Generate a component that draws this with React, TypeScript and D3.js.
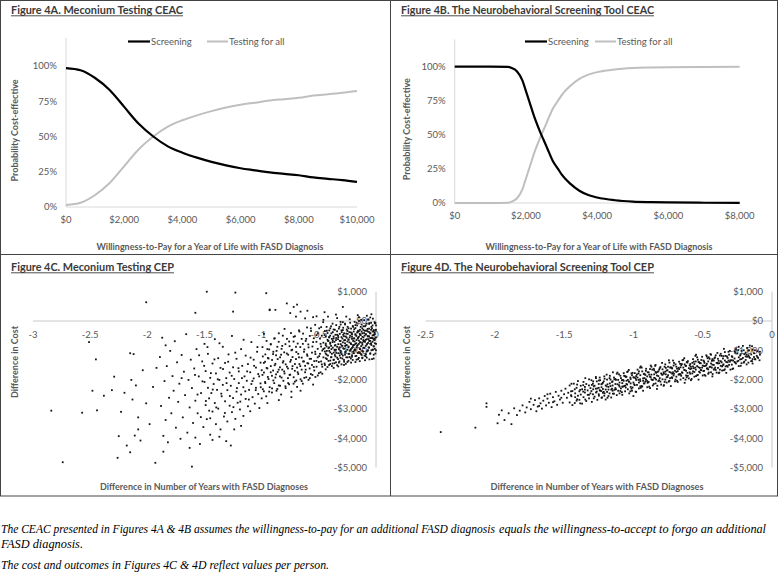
import React from 'react'
import * as d3 from 'd3'

const wtpA = [0, 500, 1000, 1500, 2000, 2500, 3000, 3500, 4000, 4500, 5000, 5500, 6000, 6500, 7000, 7500, 8000, 8500, 9000, 9500, 10000]
const screeningA = [0.985, 0.97, 0.915, 0.83, 0.71, 0.59, 0.5, 0.43, 0.385, 0.35, 0.32, 0.295, 0.275, 0.26, 0.245, 0.235, 0.225, 0.21, 0.2, 0.19, 0.178]
const testingA = [0.015, 0.03, 0.085, 0.17, 0.29, 0.41, 0.5, 0.57, 0.615, 0.65, 0.68, 0.705, 0.725, 0.74, 0.755, 0.765, 0.775, 0.79, 0.8, 0.81, 0.822]

const wtpB = [0, 500, 1000, 1500, 1600, 1750, 1900, 2000, 2100, 2250, 2400, 2500, 2600, 2750, 2900, 3000, 3250, 3500, 3750, 4000, 4500, 5000, 5500, 6000, 7000, 8000]
const screeningB = [1, 1, 1, 0.998, 0.99, 0.965, 0.9, 0.82, 0.74, 0.62, 0.52, 0.46, 0.4, 0.31, 0.25, 0.21, 0.14, 0.09, 0.058, 0.04, 0.02, 0.01, 0.006, 0.004, 0.002, 0.001]
const testingB = [0, 0, 0, 0.002, 0.01, 0.035, 0.1, 0.18, 0.26, 0.38, 0.48, 0.54, 0.6, 0.69, 0.75, 0.79, 0.86, 0.91, 0.942, 0.96, 0.98, 0.99, 0.994, 0.996, 0.998, 0.999]

const pctTicks = [0, 0.25, 0.5, 0.75, 1]
const wtpTicksA = [0, 2000, 4000, 6000, 8000, 10000]
const wtpTicksB = [0, 2000, 4000, 6000, 8000]
const costTicks = [1000, 0, -1000, -2000, -3000, -4000, -5000]
const yearTicksC = [-3, -2.5, -2, -1.5, -1, -0.5, 0]
const yearTicksD = [-2.5, -2, -1.5, -1, -0.5, 0]

// CEP scatter, [difference in years, difference in cost]
const cepC: [number, number][] = [
  [-2.84,-3060],[-2.57,-3130],[-2.51,-720],[-2.45,-1310],[-2.44,-3050],[-2.48,-2380],[-2.38,-2550],[-2.31,-2360],[-2.29,-1900],[-2.23,-3100],
  [-2.25,-3930],[-2.26,-4670],[-2.74,-4820],[-2.18,-4250],[-2.15,-4480],[-2.15,-1100],[-2.12,-1130],[-2.14,-2010],[-2.11,-3910],[-2.08,-3290],
  [-2.08,-3700],[-2.06,-4080],[-2.01,-2810],[-2.01,640],[-2.1,-2200],[-2.13,-2680],[-2.2,-2450],[-1.93,-4840],[-1.92,-1600],[-1.98,-3520],[-1.95,-2250],[-2.04,-1680],
  [-1.89,-1230],[-1.88,-2900],[-1.87,-570],[-1.86,-4460],[-1.86,-3920],[-1.85,-2050],[-1.84,-830],[-1.84,-3380],[-1.83,-1540],[-1.82,-4140],
  [-1.81,-2620],[-1.8,-1020],[-1.79,-3150],[-1.78,-1880],[-1.77,-2380],[-1.76,-690],[-1.75,-3640],[-1.74,-1410],[-1.73,-2760],[-1.72,-2140],
  [-1.71,-4020],[-1.7,-1160],[-1.69,-3290],[-1.68,-1730],[-1.67,-2530],[-1.66,-450],[-1.65,-3810],[-1.64,-2010],[-1.63,-2950],[-1.62,-1320],
  [-1.61,-4970],[-1.61,-2290],[-1.6,-3480],[-1.59,-1620],[-1.58,280],[-1.58,-2720],[-1.57,-960],[-1.56,-3150],[-1.55,-1890],[-1.54,-4200],
  [-1.53,-2460],[-1.52,-1380],[-1.51,-3620],[-1.5,-2080],[-1.5,-780],[-1.49,-2870],[-1.48,1000],[-1.58,-3980],[-1.63,-4330],[-1.7,-1950],
  [-1.49,-1710],[-1.48,-3350],[-1.47,-2280],[-1.47,-1120],[-1.46,-2640],[-1.45,-3880],[-1.45,-1940],[-1.44,-2460],[-1.43,-1450],[-1.43,-3090],
  [-1.42,-2150],[-1.41,-620],[-1.41,-2800],[-1.4,-1790],[-1.4,-3520],[-1.39,-2350],[-1.38,-1270],[-1.38,-2990],[-1.37,-2010],[-1.36,-3700],
  [-1.36,-1600],[-1.35,-2570],[-1.34,-880],[-1.34,-2180],[-1.33,-3260],[-1.32,-1430],[-1.32,-2740],[-1.31,-1950],[-1.3,-3430],[-1.3,-2360],
  [-1.29,-1140],[-1.28,-2890],[-1.28,-1760],[-1.27,-2210],[-1.26,-3110],[-1.26,-510],[-1.25,-1580],[-1.25,-2630],[-1.24,-1980],[-1.23,970],
  [-1.23,-3340],[-1.22,-2410],[-1.22,-1290],[-1.21,-2790],[-1.2,-1720],[-1.2,-2120],[-1.19,-3020],[-1.18,-960],[-1.18,-2510],[-1.17,-1530],
  [-1.16,-2260],[-1.16,-3240],[-1.15,-1890],[-1.14,-2660],[-1.14,-1180],[-1.13,-2040],[-1.12,-2910],[-1.12,-1470],[-1.11,-2350],[-1.1,-1750],
  [-1.1,-3080],[-1.09,-720],[-1.09,-2150],[-1.08,-2600],[-1.07,-1320],[-1.07,-1960],[-1.06,-2820],[-1.05,-1590],[-1.05,-2280],[-1.04,-1050],
  [-1.03,-2490],[-1.03,-1810],[-1.02,-2970],[-1.01,-1420],[-1.01,-2130],[-1.0,-1680],[-1.0,-2640],[-1.25,320],[-1.24,-3700],[-1.37,-3950],
  [-1.31,-4100],[-1.18,-3580],[-1.27,-4250],[-1.43,-4060],
  [-1.583,-1840],[-1.561,-2510],[-1.547,-1170],[-1.532,-3280],[-1.518,-2060],[-1.503,-1530],[-1.488,-2730],[-1.474,-890],[-1.459,-3060],[-1.444,-1780],
  [-1.428,-2340],[-1.413,-1310],[-1.397,-2950],[-1.384,-1990],[-1.369,-760],[-1.353,-2480],[-1.338,-1640],[-1.322,-3140],[-1.307,-2120],[-1.293,-1390],
  [-1.278,-2560],[-1.262,-1870],[-1.247,-2940],[-1.231,-1080],[-1.216,-2290],[-1.203,-1610],[-1.187,-2750],[-1.172,-1950],[-1.158,-640],[-1.143,-2400],
  [-1.127,-1720],[-1.112,-2680],[-1.097,-1250],[-1.081,-2050],[-1.066,-1530],[-1.052,-2360],[-1.037,-890],[-1.022,-1890],[-1.008,-2260],[-1.45,-3320],
  [-0.99,-1210],[-0.99,-2330],[-0.98,-1760],[-0.98,-440],[-0.97,-2080],[-0.97,-1390],[-0.96,950],[-0.96,-2570],[-0.95,-1620],[-0.95,-960],
  [-0.94,-1980],[-0.94,-1280],[-0.93,370],[-0.93,-2260],[-0.92,-1540],[-0.92,-790],[-0.91,-1870],[-0.91,-2440],[-0.9,-1130],[-0.9,-1690],
  [-0.89,-2120],[-0.89,-600],[-0.88,-1460],[-0.88,-1930],[-0.87,-2380],[-0.87,-1020],[-0.86,-1740],[-0.86,-1300],[-0.85,-2200],[-0.85,-420],
  [-0.84,-1580],[-0.84,-1890],[-0.83,-1150],[-0.83,-2510],[-0.82,-1660],[-0.82,-850],[-0.81,-2040],[-0.81,-1370],[-0.8,-1790],[-0.8,-270],
  [-0.79,-1480],[-0.79,-2290],[-0.78,600],[-0.78,-1110],[-0.77,-1950],[-0.77,-1620],[-0.76,-700],[-0.76,-2160],[-0.75,-1390],[-0.75,-1830],
  [-0.74,-1000],[-0.74,-2410],[-0.73,-1540],[-0.73,-1230],[-0.72,-1920],[-0.72,-540],[-0.71,-1700],[-0.71,-2070],[-0.7,-1300],[-0.7,-880],
  [-0.69,-1590],[-0.69,-2250],[-0.68,-1120],[-0.68,-1810],[-0.67,-360],[-0.67,-1470],[-0.66,320],[-0.66,-1990],[-0.65,-1250],[-0.65,-1660],
  [-0.64,-780],[-0.64,-2140],[-0.63,-1380],[-0.63,-1050],[-0.62,-1750],[-0.62,-1530],[-0.61,-610],[-0.61,-1920],[-0.6,-1190],[-0.6,-1440],
  [-0.59,-2010],[-0.59,-900],[-0.58,-1620],[-0.58,-1290],[-0.57,-250],[-0.57,-1810],[-0.56,-1080],[-0.56,-1500],[-0.55,-2170],[-0.55,-720],
  [-0.54,-1370],[-0.54,-1690],[-0.53,-1130],[-0.53,-1910],[-0.52,-480],[-0.52,-1560],[-0.51,-1240],[-0.51,-950],[-0.5,-1780],[-0.5,-1400],
  [-0.88,380],[-0.7,150],[-0.62,90],[-0.55,130],[-0.74,-2600],[-0.66,-2380],[-0.95,-2800],[-0.85,-2700],
  [-0.93,390],[-0.75,270],[-0.72,480],[-0.69,560],[-0.52,160],[-0.29,480],[-0.45,300],[-0.6,350],
  [-0.993,-890],[-0.993,-1840],[-0.981,-2400],[-0.981,-1430],[-0.968,-1140],[-0.968,-2120],[-0.957,-1600],[-0.957,-680],[-0.946,-1910],[-0.946,-1260],
  [-0.934,-2410],[-0.934,-970],[-0.921,-800],[-0.921,-1750],[-0.909,-2300],[-0.909,-1330],[-0.898,-1050],[-0.898,-2030],[-0.886,-1510],[-0.886,-590],
  [-0.874,-1820],[-0.874,-1170],[-0.863,-2320],[-0.863,-880],[-0.851,-710],[-0.851,-1660],[-0.839,-2210],[-0.839,-1240],[-0.826,-950],[-0.826,-1930],
  [-0.815,-1420],[-0.815,-500],[-0.803,-1720],[-0.803,-1070],[-0.792,-2230],[-0.792,-790],[-0.779,-610],[-0.779,-1560],[-0.768,-2120],[-0.768,-1150],
  [-0.756,-860],[-0.756,-1840],[-0.744,-1330],[-0.744,-410],[-0.733,-1630],[-0.733,-980],[-0.721,-2140],[-0.721,-700],[-0.709,-520],[-0.709,-1470],
  [-0.697,-2030],[-0.697,-1060],[-0.685,-770],[-0.685,-1750],[-0.674,-1240],[-0.674,-320],[-0.662,-1540],[-0.662,-890],[-0.65,-2050],[-0.65,-610],
  [-0.638,-430],[-0.638,-1380],[-0.627,-1940],[-0.627,-970],[-0.615,-680],[-0.615,-1660],[-0.603,-1140],[-0.603,-220],[-0.592,-1450],[-0.592,-800],
  [-0.579,-1950],[-0.579,-510],[-0.568,-340],[-0.568,-1290],[-0.556,-1840],[-0.556,-870],[-0.544,-590],[-0.544,-1570],[-0.532,-1050],[-0.532,-130],
  [-0.521,-1360],[-0.521,-710],[-0.509,-1860],[-0.509,-420],[-0.497,-250],[-0.497,-1200],[-0.485,-1750],[-0.485,-780],[-0.474,-500],[-0.474,-1480],
  [-0.462,-960],[-0.462,-40],
  [-0.49,-1120],[-0.49,-600],[-0.48,-1380],[-0.48,-870],[-0.48,-210],[-0.47,-1010],[-0.47,-1560],[-0.46,-740],[-0.46,-1240],[-0.46,40],
  [-0.45,-930],[-0.45,-1450],[-0.45,-480],[-0.44,-1110],[-0.44,-820],[-0.44,-1650],[-0.43,-330],[-0.43,-1020],[-0.43,-1300],[-0.42,-680],
  [-0.42,-1180],[-0.42,150],[-0.41,-900],[-0.41,-1500],[-0.41,-550],[-0.4,-1070],[-0.4,-780],[-0.4,-1350],[-0.4,-250],[-0.47,-1800],
  [-0.39,-960],[-0.39,-420],[-0.39,-1230],[-0.38,-720],[-0.38,-1450],[-0.38,-90],[-0.37,-1080],[-0.37,-590],[-0.37,-1320],[-0.36,-840],
  [-0.36,-300],[-0.36,-1160],[-0.35,-650],[-0.35,-1410],[-0.35,-980],[-0.34,-470],[-0.34,-1250],[-0.34,100],[-0.33,-790],[-0.33,-1100],
  [-0.33,-550],[-0.32,-1380],[-0.32,-900],[-0.32,-200],[-0.31,-1020],[-0.31,-680],[-0.31,-1260],[-0.3,-380],[-0.3,-840],[-0.3,-1130],
  [-0.35,220],[-0.37,-1600],[-0.33,-1550],[-0.31,-30],[-0.36,-1000],
  [-0.29,-730],[-0.29,-1180],[-0.29,-310],[-0.28,-950],[-0.28,-520],[-0.28,-1330],[-0.27,-650],[-0.27,-1060],[-0.27,-120],[-0.26,-830],
  [-0.26,-1240],[-0.26,-430],[-0.25,-980],[-0.25,-700],[-0.25,-1400],[-0.24,-250],[-0.24,-870],[-0.24,-1120],[-0.23,-560],[-0.23,-1010],
  [-0.23,60],[-0.22,-760],[-0.22,-1280],[-0.22,-390],[-0.21,-920],[-0.21,-610],[-0.21,-1170],[-0.2,-200],[-0.2,-820],[-0.2,-1050],
  [-0.28,-1500],[-0.26,150],[-0.24,-640],[-0.22,-960],[-0.27,-850],[-0.25,-340],[-0.23,-1230],[-0.21,-460],[-0.2,-680],[-0.29,-40],
  [-0.19,-590],[-0.19,-1010],[-0.19,-280],[-0.18,-780],[-0.18,-1200],[-0.18,-450],[-0.17,-900],[-0.17,-60],[-0.17,-650],[-0.16,-1090],
  [-0.16,-380],[-0.16,-820],[-0.15,-540],[-0.15,-1260],[-0.15,130],[-0.14,-720],[-0.14,-960],[-0.14,-300],[-0.13,-610],[-0.13,-1130],
  [-0.13,-860],[-0.12,-420],[-0.12,-750],[-0.12,-1020],[-0.11,-180],[-0.11,-560],[-0.11,-910],[-0.1,-680],[-0.1,-1180],[-0.1,-330],
  [-0.19,-820],[-0.18,-140],[-0.17,-1320],[-0.16,-600],[-0.15,-780],[-0.14,-470],[-0.13,40],[-0.12,-1250],[-0.11,-700],[-0.1,-500],
  [-0.16,200],[-0.14,-1100],[-0.12,-250],[-0.18,-980],[-0.15,-350],
  [-0.09,-460],[-0.09,-850],[-0.09,-150],[-0.08,-620],[-0.08,-1040],[-0.08,-330],[-0.07,-750],[-0.07,50],[-0.07,-530],[-0.06,-910],
  [-0.06,-260],[-0.06,-680],[-0.05,-420],[-0.05,-1120],[-0.05,120],[-0.04,-580],[-0.04,-820],[-0.04,-200],[-0.03,-490],[-0.03,-980],
  [-0.03,-710],[-0.02,-310],[-0.02,-640],[-0.02,-870],[-0.01,-80],[-0.01,-450],[-0.01,-760],[0,-560],[0,-300],[0,-1000],
  [-0.09,-1200],[-0.08,180],[-0.07,-1000],[-0.06,-100],[-0.05,-780],[-0.04,230],[-0.03,-150],[-0.02,-1150],[-0.01,-600],[0,-150],
  [-0.09,-640],[-0.07,-360],[-0.05,-580],[-0.03,-360],[-0.01,-950],[-0.08,-800],[-0.06,-520],[-0.04,-1000],[-0.02,-480],[0,-780],
  [-0.447,-340],[-0.447,-1040],[-0.447,-1500],[-0.439,-770],[-0.439,-530],[-0.439,-1270],[-0.432,-870],[-0.432,-200],[-0.432,-1150],[-0.424,-640],
  [-0.424,-1570],[-0.424,-410],[-0.416,-930],[-0.416,-680],[-0.416,-1360],[-0.409,-560],[-0.409,-320],[-0.409,-1020],[-0.401,-1470],[-0.401,-740],
  [-0.401,-500],[-0.393,-1240],[-0.393,-850],[-0.393,-180],[-0.386,-1120],[-0.386,-610],[-0.386,-1540],[-0.378,-380],[-0.378,-910],[-0.378,-660],
  [-0.371,-1330],[-0.371,-530],[-0.371,-290],[-0.363,-980],[-0.363,-1440],[-0.363,-710],[-0.355,-470],[-0.355,-1210],[-0.355,-820],[-0.348,-140],
  [-0.348,-1090],[-0.348,-580],[-0.34,-1510],[-0.34,-350],[-0.34,-880],[-0.332,-620],[-0.332,-1300],[-0.332,-500],[-0.325,-260],[-0.325,-960],
  [-0.325,-1420],[-0.317,-680],[-0.317,-440],[-0.317,-1180],[-0.309,-790],[-0.309,-120],[-0.309,-1070],[-0.302,-550],[-0.302,-1480],[-0.302,-320],
  [-0.294,-850],[-0.294,-600],[-0.294,-1280],[-0.287,-470],[-0.287,-230],[-0.287,-930],[-0.279,-1390],[-0.279,-660],[-0.279,-420],[-0.271,-1150],
  [-0.271,-760],[-0.271,-90],[-0.264,-1040],[-0.264,-530],[-0.264,-1460],[-0.256,-290],[-0.256,-820],[-0.256,-570],[-0.248,-1240],[-0.248,-440],
  [-0.248,-200],[-0.241,-900],[-0.241,-1360],[-0.241,-630],[-0.233,-380],[-0.233,-1120],[-0.233,-730],[-0.226,-60],[-0.226,-1010],[-0.226,-500],
  [-0.218,-1420],[-0.218,-260],[-0.218,-790],[-0.21,-540],[-0.21,-1220],[-0.21,-420],[-0.203,-170],[-0.203,-870],[-0.203,-1330],[-0.195,-600],
  [-0.195,-360],[-0.195,-1100],[-0.187,-700],[-0.187,-30],[-0.187,-980],[-0.18,-470],[-0.18,-1400],[-0.18,-240],[-0.172,-760],[-0.172,-510],
  [-0.172,-1190],[-0.165,-390],[-0.165,-150],[-0.165,-850],[-0.157,-1300],[-0.157,-570],[-0.157,-330],[-0.149,-1060],[-0.149,-670],[-0.149,0],
  [-0.142,-950],[-0.142,-440],[-0.142,-1370],[-0.134,-200],[-0.134,-730],[-0.134,-480],[-0.126,-1160],[-0.126,-360],[-0.126,-120],[-0.119,-810],
  [-0.119,-1270],[-0.119,-540],[-0.111,-300],[-0.111,-1040],[-0.111,-650],[-0.104,30],[-0.104,-920],[-0.104,-410],[-0.096,-1340],[-0.096,-180],
  [-0.096,-710],[-0.088,-450],[-0.088,-1130],[-0.088,-330],[-0.081,-90],[-0.081,-790],[-0.081,-1250],[-0.073,-510],[-0.073,-270],[-0.073,-1010],
  [-0.065,-620],[-0.065,50],[-0.065,-900],[-0.058,-380],[-0.058,-1310],[-0.058,-70],[-0.05,-680],[-0.05,-420],[-0.05,-1100],[-0.043,-300],
  [-0.043,-60],[-0.043,-760],[-0.035,-1300],[-0.035,-570],[-0.035,-250],[-0.027,-980],[-0.027,-590],[-0.027,80],[-0.02,-860],[-0.02,-350],
  [-0.02,-1280],[-0.012,-40],[-0.012,-650],[-0.012,-400],[-0.005,-1110],[-0.005,-310],[-0.005,-70],
]

const cepD: [number, number][] = [
  [-2.39,-3790],[-2.14,-3640],[-2.06,-2810],[-2.06,-2930],[-1.98,-3490],[-1.93,-3380],[-1.88,-3520],[-1.95,-3050],[-1.9,-3150],[-1.86,-2980],
  [-1.84,-3210],[-1.82,-3060],[-1.8,-2880],[-1.78,-3120],[-1.77,-2950],[-1.75,-2760],[-1.74,-3010],[-1.72,-2860],[-1.71,-2700],[-1.7,-3080],
  [-1.69,-2920],[-1.68,-2640],[-1.67,-2810],[-1.66,-2990],[-1.65,-2720],[-1.64,-2560],[-1.63,-2880],[-1.62,-2650],[-1.61,-2790],[-1.6,-2480],
  [-1.59,-2940],[-1.58,-2600],[-1.57,-2740],[-1.56,-2420],[-1.55,-2860],[-1.54,-2550],[-1.53,-2680],[-1.52,-2380],[-1.51,-2790],[-1.5,-2500],
  [-1.49,-2310],[-1.48,-2620],[-1.47,-2450],[-1.46,-2780],[-1.46,-2200],[-1.45,-2530],[-1.44,-2390],[-1.44,-2870],[-1.43,-2140],[-1.42,-2600],
  [-1.42,-2470],[-1.41,-2720],[-1.41,-2280],[-1.4,-2550],[-1.4,-2050],
  [-1.39,-2400],[-1.39,-2690],[-1.38,-2210],[-1.38,-2510],[-1.37,-2820],[-1.37,-2330],[-1.36,-2080],[-1.36,-2600],[-1.35,-2440],[-1.35,-2250],
  [-1.34,-2730],[-1.34,-2150],[-1.33,-2520],[-1.33,-2370],[-1.32,-2640],[-1.32,-1990],[-1.31,-2290],[-1.31,-2470],[-1.3,-2760],[-1.3,-2180],
  [-1.29,-2330],[-1.29,-2060],[-1.28,-2580],[-1.28,-2210],[-1.27,-2440],[-1.27,-1950],[-1.26,-2690],[-1.26,-2300],[-1.25,-2150],[-1.25,-2500],
  [-1.24,-2380],[-1.24,-2020],[-1.23,-2620],[-1.23,-2260],[-1.22,-2450],[-1.22,-2110],[-1.21,-2550],[-1.21,-1890],[-1.2,-2340],[-1.2,-2200],[-1.2,-2680],
  [-1.19,-2000],[-1.19,-2420],[-1.18,-2250],[-1.18,-2560],[-1.17,-1870],[-1.17,-2130],[-1.16,-2340],[-1.16,-2610],[-1.15,-2060],[-1.15,-2200],
  [-1.14,-2480],[-1.14,-1930],[-1.13,-2290],[-1.13,-2150],[-1.12,-2530],[-1.12,-1800],[-1.11,-2380],[-1.11,-2010],[-1.1,-2240],[-1.1,-2470],[-1.1,-2100],
  [-1.09,-1950],[-1.09,-2300],[-1.08,-2120],[-1.08,-2520],[-1.07,-1780],[-1.07,-2040],[-1.06,-2210],[-1.06,-2400],[-1.05,-1900],[-1.05,-2150],
  [-1.04,-2330],[-1.04,-1720],[-1.03,-2070],[-1.03,-2470],[-1.02,-1980],[-1.02,-2250],[-1.01,-1850],[-1.01,-2380],[-1.0,-2100],[-1.0,-1920],
  [-1.0,-2560],[-1.04,-2010],[-1.06,-1880],
  [-0.99,-1780],[-0.99,-2190],[-0.98,-2010],[-0.98,-2420],[-0.97,-1660],[-0.97,-1930],[-0.96,-2100],[-0.96,-2300],[-0.95,-1850],[-0.95,-2050],
  [-0.94,-1590],[-0.94,-2220],[-0.93,-1960],[-0.93,-2380],[-0.92,-1800],[-0.92,-2130],[-0.91,-1700],[-0.91,-2000],[-0.9,-2260],[-0.9,-1890],
  [-0.96,-1720],[-0.93,-2040],
  [-0.89,-1750],[-0.89,-2080],[-0.88,-1900],[-0.88,-2290],[-0.87,-1560],[-0.87,-1830],[-0.86,-2010],[-0.86,-2200],[-0.85,-1680],[-0.85,-1940],
  [-0.84,-2130],[-0.84,-1500],[-0.83,-1860],[-0.83,-2320],[-0.82,-1720],[-0.82,-2050],[-0.81,-1610],[-0.81,-1950],[-0.8,-2170],[-0.8,-1790],
  [-0.85,-1820],[-0.88,-1640],
  [-0.79,-1650],[-0.79,-1990],[-0.78,-1800],[-0.78,-2190],[-0.77,-1480],[-0.77,-1730],[-0.76,-1920],[-0.76,-2100],[-0.75,-1560],[-0.75,-1850],
  [-0.74,-2040],[-0.74,-1420],[-0.73,-1760],[-0.73,-2220],[-0.72,-1620],[-0.72,-1950],[-0.71,-1520],[-0.71,-1860],[-0.7,-2060],[-0.7,-1700],
  [-0.76,-1690],[-0.73,-1580],
  [-0.69,-1560],[-0.69,-1900],[-0.68,-1710],[-0.68,-2080],[-0.67,-1390],[-0.67,-1640],[-0.66,-1830],[-0.66,-2000],[-0.65,-1470],[-0.65,-1750],
  [-0.64,-1950],[-0.64,-1330],[-0.63,-1670],[-0.63,-2110],[-0.62,-1530],[-0.62,-1860],[-0.61,-1420],[-0.61,-1770],[-0.6,-1960],[-0.6,-1610],
  [-0.66,-1580],[-0.63,-1480],
  [-0.59,-1470],[-0.59,-1800],[-0.58,-1620],[-0.58,-1980],[-0.57,-1300],[-0.57,-1550],[-0.56,-1740],[-0.56,-1900],[-0.55,-1380],[-0.55,-1660],
  [-0.54,-1850],[-0.54,-1240],[-0.53,-1580],[-0.53,-2000],[-0.52,-1440],[-0.52,-1760],[-0.51,-1330],[-0.51,-1680],[-0.5,-1860],[-0.5,-1520],
  [-0.56,-1470],[-0.53,-1400],
  [-0.49,-1380],[-0.49,-1700],[-0.48,-1530],[-0.48,-1870],[-0.47,-1210],[-0.47,-1460],[-0.46,-1650],[-0.46,-1800],[-0.45,-1290],[-0.45,-1570],
  [-0.44,-1750],[-0.44,-1150],[-0.43,-1490],[-0.43,-1890],[-0.42,-1350],[-0.42,-1660],[-0.41,-1240],[-0.41,-1590],[-0.4,-1760],[-0.4,-1430],
  [-0.46,-1380],[-0.43,-1300],
  [-0.39,-1290],[-0.39,-1600],[-0.38,-1440],[-0.38,-1760],[-0.37,-1120],[-0.37,-1370],[-0.36,-1550],[-0.36,-1690],[-0.35,-1200],[-0.35,-1480],
  [-0.34,-1650],[-0.34,-1060],[-0.33,-1400],[-0.33,-1770],[-0.32,-1260],[-0.32,-1560],[-0.31,-1150],[-0.31,-1500],[-0.3,-1660],[-0.3,-1340],
  [-0.29,-1200],[-0.29,-1490],[-0.28,-1350],[-0.28,-1620],[-0.27,-1030],[-0.27,-1280],[-0.26,-1450],[-0.26,-960],[-0.25,-1110],[-0.25,-1380],
  [-0.24,-1540],[-0.24,-880],[-0.23,-1310],[-0.23,-1180],[-0.22,-1440],[-0.22,-1020],[-0.21,-1260],[-0.21,-850],[-0.2,-1390],[-0.2,-1130],
  [-0.19,-1080],[-0.19,-1330],[-0.18,-920],[-0.18,-1220],[-0.17,-1420],[-0.17,-1010],[-0.16,-1260],[-0.15,-1140],[-0.15,-1370],[-0.14,-980],
  [-0.13,-1230],[-0.13,-1100],[-0.12,-1310],[-0.11,-1190],[-0.1,-1260],[-0.09,-1340],[-0.16,-840],[-0.14,-1450],
  [-1.18,-2340],[-1.15,-2380],[-1.13,-1980],[-1.08,-2240],[-1.05,-2040],[-1.02,-2130],[-0.98,-1880],[-0.95,-2230],[-0.92,-1950],[-0.9,-2050],
  [-0.87,-1990],[-0.84,-1740],[-0.82,-1880],[-0.79,-1830],[-0.77,-2000],[-0.74,-1740],[-0.72,-1800],[-0.69,-1740],[-0.67,-1820],[-0.64,-1590],
  [-0.62,-1700],[-0.59,-1640],[-0.57,-1720],[-0.54,-1540],[-0.52,-1600],[-0.49,-1540],[-0.47,-1620],[-0.44,-1450],[-0.42,-1500],[-0.39,-1450],
  [-0.37,-1530],[-0.34,-1350],[-0.32,-1410],[-0.29,-1340],[-0.27,-1400],[-0.24,-1240],[-0.22,-1300],[-0.19,-1210],[-0.17,-1170],[-0.14,-1300],
  [-1.25,-2280],[-1.22,-2320],[-1.35,-2340],[-1.45,-2400],[-1.52,-2620],[-1.58,-2770],[-1.62,-2500],[-1.68,-2900],[-1.74,-2650],[-1.97,-3200],
  [-1.447,-2140],[-1.447,-2570],[-1.423,-2800],[-1.423,-2330],[-1.406,-2170],[-1.406,-2670],[-1.384,-2350],[-1.384,-2810],[-1.362,-2190],[-1.362,-2410],
  [-1.347,-1950],[-1.347,-2680],[-1.321,-2200],[-1.321,-2520],[-1.303,-2020],[-1.303,-2390],[-1.286,-2640],[-1.286,-2230],[-1.264,-2060],[-1.264,-2410],
  [-1.243,-1930],[-1.243,-2360],[-1.226,-2610],[-1.226,-2140],[-1.208,-1970],[-1.208,-2470],[-1.187,-2160],[-1.187,-2620],[-1.165,-2000],[-1.165,-2220],
  [-1.148,-1750],[-1.148,-2480],[-1.126,-2010],[-1.126,-2330],[-1.104,-1820],[-1.104,-2190],[-1.083,-2430],[-1.083,-2020],[-1.067,-1870],[-1.067,-2220],
  [-1.045,-1740],[-1.045,-2170],[-1.022,-2400],[-1.022,-1930],[-1.006,-1770],[-1.006,-2270],[-0.984,-1950],[-0.984,-2410],[-0.963,-1790],[-0.963,-2010],
  [-0.947,-1550],[-0.947,-2280],[-0.925,-1810],[-0.925,-2130],[-0.908,-1630],[-0.908,-2000],[-0.886,-2240],[-0.886,-1830],[-0.864,-1660],[-0.864,-2010],
  [-0.843,-1530],[-0.843,-1960],[-0.827,-2210],[-0.827,-1740],[-0.805,-1570],[-0.805,-2070],[-0.782,-1750],[-0.782,-2210],[-0.766,-1600],[-0.766,-1820],
  [-0.744,-1340],[-0.744,-2070],[-0.723,-1600],[-0.723,-1920],[-0.707,-1430],[-0.707,-1800],[-0.685,-2040],[-0.685,-1630],[-0.663,-1460],[-0.663,-1810],
  [-0.646,-1340],[-0.646,-1770],[-0.624,-2000],[-0.624,-1530],[-0.607,-1370],[-0.607,-1870],[-0.585,-1560],[-0.585,-2020],[-0.564,-1390],[-0.564,-1610],
  [-0.548,-1150],[-0.548,-1880],[-0.526,-1410],[-0.526,-1730],[-0.504,-1220],[-0.504,-1590],[-0.487,-1840],[-0.487,-1430],[-0.465,-1270],[-0.465,-1620],
  [-0.444,-1130],[-0.444,-1560],[-0.428,-1810],[-0.428,-1340],[-0.406,-1170],[-0.406,-1670],[-0.385,-1360],[-0.385,-1780],[-0.363,-1190],[-0.363,-1410],
  [-0.347,-950],[-0.347,-1680],[-0.325,-1210],[-0.325,-1530],[-0.304,-1020],[-0.304,-1390],[-0.286,-1640],[-0.286,-1230],[-0.265,-1070],[-0.265,-1420],
  [-0.243,-990],[-0.243,-1360],[-0.226,-1530],[-0.226,-1140],[-0.204,-1000],[-0.204,-1420],[-0.183,-1150],[-0.183,-1480],[-0.166,-1000],[-0.166,-1220],
  [-0.144,-860],[-0.144,-1370],[-0.123,-1000],[-0.123,-1300],[-0.105,-1030],[-0.105,-1230],[-0.087,-1150],[-0.087,-1050],
  [-1.292,-2500],[-1.292,-2140],[-1.271,-1910],[-1.271,-2310],[-1.249,-2550],[-1.249,-2030],[-1.231,-2390],[-1.231,-2160],[-1.214,-2420],[-1.214,-2060],
  [-1.193,-1830],[-1.193,-2230],[-1.172,-2470],[-1.172,-1950],[-1.154,-2310],[-1.154,-2080],[-1.137,-2350],[-1.137,-1990],[-1.115,-1760],[-1.115,-2160],
  [-1.094,-2390],[-1.094,-1870],[-1.076,-2240],[-1.076,-2010],[-1.055,-2270],[-1.055,-1910],[-1.033,-1670],[-1.033,-2070],[-1.014,-2310],[-1.014,-1790],
  [-0.995,-2160],[-0.995,-1930],[-0.974,-2180],[-0.974,-1820],[-0.952,-1590],[-0.952,-1990],[-0.936,-2240],[-0.936,-1720],[-0.914,-2070],[-0.914,-1840],
  [-0.897,-2110],[-0.897,-1750],[-0.875,-1520],[-0.875,-1920],[-0.853,-2150],[-0.853,-1630],[-0.836,-2000],[-0.836,-1770],[-0.814,-2020],[-0.814,-1660],
  [-0.793,-1430],[-0.793,-1830],[-0.775,-2080],[-0.775,-1560],[-0.754,-1910],[-0.754,-1680],[-0.735,-1950],[-0.735,-1590],[-0.714,-1350],[-0.714,-1750],
  [-0.696,-2000],[-0.696,-1480],[-0.674,-1830],[-0.674,-1600],[-0.655,-1870],[-0.655,-1510],[-0.633,-1270],[-0.633,-1670],[-0.615,-1920],[-0.615,-1400],
  [-0.594,-1750],[-0.594,-1520],[-0.575,-1790],[-0.575,-1430],[-0.553,-1190],[-0.553,-1590],[-0.535,-1840],[-0.535,-1320],[-0.514,-1670],[-0.514,-1440],
  [-0.495,-1710],[-0.495,-1350],[-0.474,-1170],[-0.474,-1510],[-0.456,-1760],[-0.456,-1240],[-0.434,-1590],[-0.434,-1360],[-0.415,-1630],[-0.415,-1270],
  [-0.394,-1090],[-0.394,-1430],[-0.376,-1660],[-0.376,-1180],[-0.354,-1510],[-0.354,-1280],[-0.335,-1550],[-0.335,-1190],[-0.314,-1050],[-0.314,-1350],
]

const FONT = 'Lato, "Open Sans", sans-serif'
const GREY = '#595959'

const fmtMoney = d3.format(',')
const money = (d: number) => (d < 0 ? `-$${fmtMoney(-d)}` : `$${fmtMoney(d)}`)

interface TitleProps {
  x: number
  y: number
  width: number
  text: string
}

const Title: React.FC<TitleProps> = ({ x, y, width, text }) => (
  <g>
    <text x={x} y={y} fontFamily={FONT} fontWeight={700} fontSize={11.5} fill="#3a3a3a" textLength={width} lengthAdjust="spacingAndGlyphs">
      {text}
    </text>
    <line x1={x} x2={x + width} y1={y + 1.8} y2={y + 1.8} stroke="#3a3a3a" strokeWidth={0.9} />
  </g>
)

interface CeacProps {
  ox: number
  title: string
  titleWidth: number
  wtp: number[]
  screening: number[]
  testing: number[]
  ticks: number[]
  xRange: [number, number]
  yRange: [number, number]
  legendX: [number, number]
  yLabelX: number
  xLabelX: number
}

const Ceac: React.FC<CeacProps> = ({ ox, title, titleWidth, wtp, screening, testing, ticks, xRange, yRange, legendX, yLabelX, xLabelX }) => {
  const x = d3.scaleLinear().domain([0, ticks[ticks.length - 1]]).range(xRange)
  const y = d3.scaleLinear().domain([0, 1.2]).range(yRange)
  const line = d3
    .line<number>()
    .x((_, i) => x(wtp[i]))
    .y(d => y(d))
    .curve(d3.curveMonotoneX)
  const yMid = (y(0) + y(1.2)) / 2
  return (
    <g fontFamily={FONT}>
      <Title x={ox + 11} y={14} width={titleWidth} text={title} />
      <line x1={x(0)} x2={x(0)} y1={y(1.2)} y2={y(0)} stroke="#d9d9d9" />
      <line x1={x(0)} x2={x.range()[1]} y1={y(0)} y2={y(0)} stroke="#d9d9d9" />
      {pctTicks.map(t => (
        <text key={t} x={x(0) - 9} y={y(t)} dy="0.35em" textAnchor="end" fontSize={9.5} fill={GREY}>
          {d3.format('.0%')(t)}
        </text>
      ))}
      {ticks.map(t => (
        <text key={t} x={x(t)} y={y(0) + 13} dy="0.35em" textAnchor="middle" fontSize={9.5} fill={GREY}>
          {money(t)}
        </text>
      ))}
      <path d={line(testing) ?? ''} fill="none" stroke="#bfbfbf" strokeWidth={2} />
      <path d={line(screening) ?? ''} fill="none" stroke="#000" strokeWidth={2.2} />
      <line x1={legendX[0]} x2={legendX[0] + 22} y1={41.5} y2={41.5} stroke="#000" strokeWidth={2.2} />
      <text x={legendX[0] + 23} y={41.5} dy="0.35em" fontSize={9.5} fill={GREY}>Screening</text>
      <line x1={legendX[1]} x2={legendX[1] + 21} y1={41.5} y2={41.5} stroke="#bfbfbf" strokeWidth={2} />
      <text x={legendX[1] + 22} y={41.5} dy="0.35em" fontSize={9.5} fill={GREY}>Testing for all</text>
      <text
        transform={`translate(${yLabelX},${yMid + 8}) rotate(-90)`}
        textAnchor="middle"
        dy="0.35em"
        fontSize={9.5}
        fontWeight={700}
        fill={GREY}
        textLength={102}
        lengthAdjust="spacingAndGlyphs"
      >
        Probability Cost-effective
      </text>
      <text x={xLabelX} y={247} dy="0.35em" textAnchor="middle" fontSize={9.5} fontWeight={700} fill={GREY} textLength={227} lengthAdjust="spacingAndGlyphs">
        Willingness-to-Pay for a Year of Life with FASD Diagnosis
      </text>
    </g>
  )
}

interface CepProps {
  ox: number
  title: string
  titleWidth: number
  points: [number, number][]
  ticks: number[]
  xRange: [number, number]
  yLabelX: number
  xLabel: string
  xLabelX: number
  xLabelWidth: number
}

const Cep: React.FC<CepProps> = ({ ox, title, titleWidth, points, ticks, xRange, yLabelX, xLabel, xLabelX, xLabelWidth }) => {
  const x = d3.scaleLinear().domain([ticks[0], 0]).range(xRange)
  const y = d3.scaleLinear().domain([-5000, 1000]).range([467.5, 291.7])
  return (
    <g fontFamily={FONT}>
      <Title x={ox + 11} y={271} width={titleWidth} text={title} />
      <line x1={x(0)} x2={x(0)} y1={y(1000)} y2={y(-5000)} stroke="#c8c8c8" />
      <line x1={x(ticks[0])} x2={x(0)} y1={y(0)} y2={y(0)} stroke="#c8c8c8" />
      {costTicks.map(t => (
        <text key={t} x={x(0) - 9} y={y(t)} dy="0.35em" textAnchor="end" fontSize={9.5} fill={GREY}>
          {money(t)}
        </text>
      ))}
      {ticks.map(t => (
        <text key={t} x={x(t)} y={y(0) + 14} dy="0.35em" textAnchor="middle" fontSize={9.5} fill={GREY}>
          {t}
        </text>
      ))}
      <g fill="#141414">
        {points.map((p, i) => (
          <rect key={i} x={x(p[0]) - 0.9} y={y(p[1]) - 0.9} width={1.8} height={1.8} />
        ))}
      </g>
      <text
        transform={`translate(${yLabelX},362) rotate(-90)`}
        textAnchor="middle"
        dy="0.35em"
        fontSize={9.5}
        fontWeight={700}
        fill={GREY}
        textLength={72}
        lengthAdjust="spacingAndGlyphs"
      >
        Difference in Cost
      </text>
      <text x={xLabelX} y={487} dy="0.35em" textAnchor="middle" fontSize={9.5} fontWeight={700} fill={GREY} textLength={xLabelWidth} lengthAdjust="spacingAndGlyphs">
        {xLabel}
      </text>
    </g>
  )
}

const App: React.FC = () => {
  const caption = { fontFamily: '"Liberation Serif", "Times New Roman", serif', fontStyle: 'italic', fontSize: 12.2 }
  return (
    <svg width={778} height={575} style={{ position: 'absolute', left: 0, top: 0, background: '#fff' }}>
      <rect x={0.5} y={0.5} width={777} height={495.5} fill="#fff" stroke="#444" />
      <line x1={390.5} x2={390.5} y1={0.5} y2={496} stroke="#444" />
      <line x1={0.5} x2={777.5} y1={254.5} y2={254.5} stroke="#444" />

      <Ceac
        ox={0}
        title="Figure 4A. Meconium Testing CEAC"
        titleWidth={172}
        wtp={wtpA}
        screening={screeningA}
        testing={testingA}
        ticks={wtpTicksA}
        xRange={[66, 357]}
        yRange={[207, 37.8]}
        legendX={[128, 207]}
        yLabelX={15}
        xLabelX={210}
      />
      <Ceac
        ox={390}
        title="Figure 4B. The Neurobehavioral Screening Tool CEAC"
        titleWidth={253}
        wtp={wtpB}
        screening={screeningB}
        testing={testingB}
        ticks={wtpTicksB}
        xRange={[454.7, 739.7]}
        yRange={[203, 39.4]}
        legendX={[525, 595]}
        yLabelX={407}
        xLabelX={599}
      />
      <Cep
        ox={0}
        title="Figure 4C. Meconium Testing CEP"
        titleWidth={163}
        points={cepC}
        ticks={yearTicksC}
        xRange={[33, 376]}
        yLabelX={15}
        xLabel="Difference in Number of Years with FASD Diagnoses"
        xLabelX={204}
        xLabelWidth={208}
      />
      <Cep
        ox={390}
        title="Figure 4D. The Neurobehavioral Screening Tool CEP"
        titleWidth={253}
        points={cepD}
        ticks={yearTicksD}
        xRange={[425.5, 772]}
        yLabelX={407}
        xLabel="Difference in Number of Years with  FASD Diagnoses"
        xLabelX={597}
        xLabelWidth={213}
      />

      <text x={1} y={533} {...caption} textLength={494} lengthAdjust="spacingAndGlyphs">
        The CEAC presented in Figures 4A &amp; 4B assumes the willingness-to-pay for an additional FASD diagnosis
      </text>
      <text x={499} y={533} {...caption} textLength={267} lengthAdjust="spacingAndGlyphs">
        equals the willingness-to-accept to forgo an additional
      </text>
      <text x={1} y={548} {...caption} textLength={82} lengthAdjust="spacingAndGlyphs">
        FASD diagnosis.
      </text>
      <text x={1} y={569} {...caption} textLength={328} lengthAdjust="spacingAndGlyphs">
        The cost and outcomes in Figures 4C &amp; 4D reflect values per person.
      </text>
    </svg>
  )
}

export default App
